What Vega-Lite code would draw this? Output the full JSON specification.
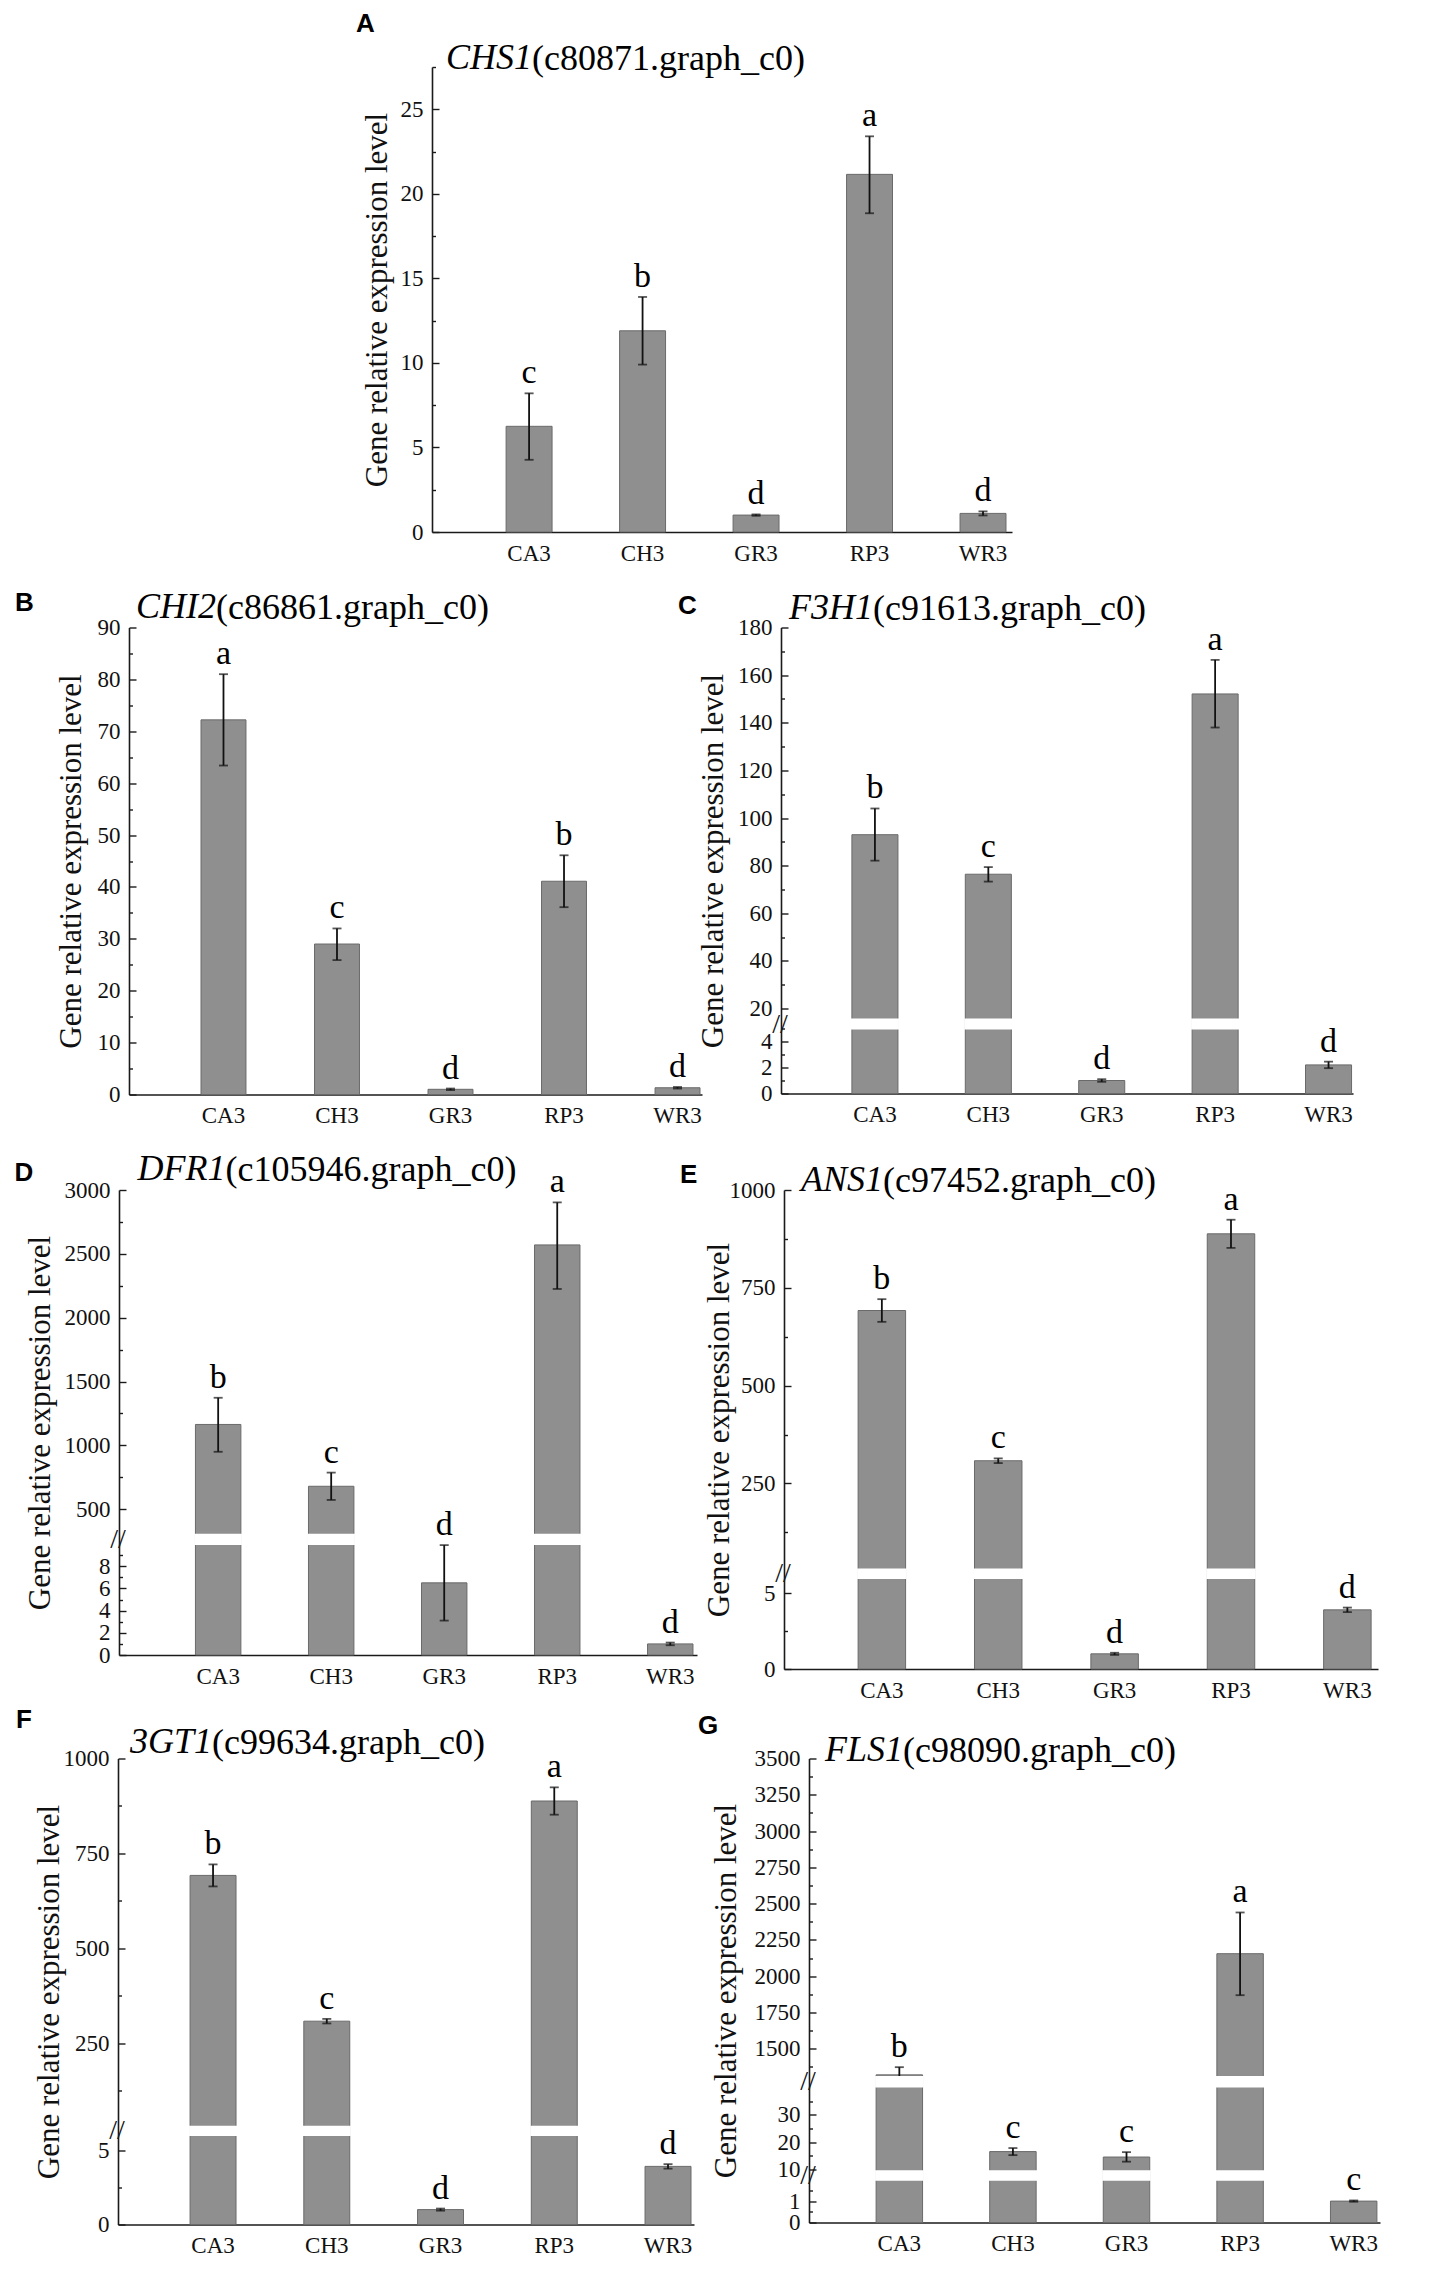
{
  "$schema": "https://vega.github.io/schema/vega-lite/v6.json",
  "background": "white",
  "padding": {"left": 5, "top": 10, "right": 5, "bottom": 5},
  "spacing": 23.5,
  "datasets": {
    "A": [
      {"line": "CA3", "value": 6.25, "lo": 4.27, "hi": 8.2, "sig": "c"},
      {"line": "CH3", "value": 11.9, "lo": 9.9, "hi": 13.9, "sig": "b"},
      {"line": "GR3", "value": 1.0, "lo": 0.96, "hi": 1.04, "sig": "d"},
      {"line": "RP3", "value": 21.15, "lo": 18.85, "hi": 23.4, "sig": "a"},
      {"line": "WR3", "value": 1.1, "lo": 0.98, "hi": 1.22, "sig": "d"}
    ],
    "B": [
      {"line": "CA3", "value": 72.2, "lo": 63.4, "hi": 81.0, "sig": "a"},
      {"line": "CH3", "value": 29.0, "lo": 25.9, "hi": 32.0, "sig": "c"},
      {"line": "GR3", "value": 1.0, "lo": 0.85, "hi": 1.15, "sig": "d"},
      {"line": "RP3", "value": 41.1, "lo": 36.1, "hi": 46.1, "sig": "b"},
      {"line": "WR3", "value": 1.3, "lo": 1.15, "hi": 1.45, "sig": "d"}
    ],
    "C": [
      {"line": "CA3", "value": 93.0, "lo": 82.1, "hi": 104.0, "sig": "b"},
      {"line": "CH3", "value": 76.4, "lo": 73.3, "hi": 79.4, "sig": "c"},
      {"line": "GR3", "value": 1.0, "lo": 0.9, "hi": 1.1, "sig": "d"},
      {"line": "RP3", "value": 152.1, "lo": 138.0, "hi": 166.4, "sig": "a"},
      {"line": "WR3", "value": 2.2, "lo": 1.95, "hi": 2.45, "sig": "d"}
    ],
    "D": [
      {"line": "CA3", "value": 1164, "lo": 950, "hi": 1373, "sig": "b"},
      {"line": "CH3", "value": 680, "lo": 573, "hi": 787, "sig": "c"},
      {"line": "GR3", "value": 6.5, "lo": 3.1, "hi": 9.9, "sig": "d"},
      {"line": "RP3", "value": 2570, "lo": 2225, "hi": 2903, "sig": "a"},
      {"line": "WR3", "value": 1.0, "lo": 0.88, "hi": 1.12, "sig": "d"}
    ],
    "E": [
      {"line": "CA3", "value": 692, "lo": 663, "hi": 721, "sig": "b"},
      {"line": "CH3", "value": 308, "lo": 302, "hi": 314, "sig": "c"},
      {"line": "GR3", "value": 1.0, "lo": 0.93, "hi": 1.07, "sig": "d"},
      {"line": "RP3", "value": 888, "lo": 852, "hi": 924, "sig": "a"},
      {"line": "WR3", "value": 3.9, "lo": 3.75, "hi": 4.05, "sig": "d"}
    ],
    "F": [
      {"line": "CA3", "value": 692, "lo": 663, "hi": 721, "sig": "b"},
      {"line": "CH3", "value": 308, "lo": 302, "hi": 314, "sig": "c"},
      {"line": "GR3", "value": 1.0, "lo": 0.93, "hi": 1.07, "sig": "d"},
      {"line": "RP3", "value": 888, "lo": 852, "hi": 924, "sig": "a"},
      {"line": "WR3", "value": 3.9, "lo": 3.75, "hi": 4.05, "sig": "d"}
    ],
    "G": [
      {"line": "CA3", "value": 1320, "lo": 1267, "hi": 1373, "sig": "b"},
      {"line": "CH3", "value": 16.5, "lo": 15.2, "hi": 17.8, "sig": "c"},
      {"line": "GR3", "value": 14.5, "lo": 12.8, "hi": 16.3, "sig": "c"},
      {"line": "RP3", "value": 2155, "lo": 1869, "hi": 2439, "sig": "a"},
      {"line": "WR3", "value": 1.0, "lo": 0.97, "hi": 1.03, "sig": "c"}
    ]
  },
  "vconcat": [
    {
      "spacing": 10,
      "hconcat": [
        {"width": 337, "height": 1, "data": {"values": [{"k": 1}]}, "mark": {"type": "point", "opacity": 0}, "encoding": {}},
        {
          "title": {"text": "A", "anchor": "start", "frame": "bounds", "font": "Liberation Sans", "fontSize": 26, "fontWeight": "bold", "color": "#000", "offset": 0, "dx": -5, "dy": -3},
          "vconcat": [{
            "title": {"text": "CHS1", "anchor": "start", "frame": "group", "offset": 0, "dx": 14, "dy": 36, "font": "Liberation Serif", "fontSize": 36, "fontStyle": "italic", "fontWeight": "normal", "color": "#000"},
            "vconcat": [{
              "width": 580,
              "height": 465,
              "data": {"name": "A"},
              "title": {"text": "(c80871.graph_c0)", "anchor": "start", "frame": "group", "offset": 0, "dx": 100, "dy": 21.5, "font": "Liberation Serif", "fontSize": 36, "fontStyle": "normal", "fontWeight": "normal", "color": "#000"},
              "encoding": {"x": {"field": "line", "type": "nominal", "title": null, "scale": {"paddingInner": 0.595, "paddingOuter": 0.353, "align": 0.925}}},
              "layer": [
                {
                  "mark": {"type": "bar", "fill": "#8f8f8f", "stroke": "#6a6a6a", "strokeWidth": 1},
                  "encoding": {
                    "y": {
                      "field": "value", "type": "quantitative", "title": "Gene relative expression level",
                      "scale": {"domain": [0, 27.5], "nice": false, "zero": false},
                      "axis": {
                        "values": [0, 2.5, 5, 7.5, 10, 12.5, 15, 17.5, 20, 22.5, 25, 27.5],
                        "tickCount": 200,
                        "format": "d",
                        "labelOverlap": false,
                        "labelExpr": "indexof([0,5,10,15,20,25], datum.value) >= 0 ? datum.label : ''",
                        "tickSize": {"condition": {"test": "indexof([0,5,10,15,20,25], datum.value) >= 0", "value": -7}, "value": -3.5},
                        "labelPadding": 16,
                        "titleX": -55
                      }
                    },
                    "y2": {"datum": 0}
                  }
                },
                {
                  "mark": {"type": "errorbar", "ticks": {"size": 9}, "thickness": 1.8, "color": "#111"},
                  "encoding": {"y": {"field": "lo", "type": "quantitative", "title": "Gene relative expression level"}, "y2": {"field": "hi"}}
                },
                {
                  "mark": {"type": "text", "baseline": "alphabetic", "dy": -10, "fontSize": 34, "font": "Liberation Serif", "color": "#000"},
                  "encoding": {"y": {"field": "hi", "type": "quantitative", "title": "Gene relative expression level"}, "text": {"field": "sig"}}
                }
              ]
            }]
          }]
        }
      ]
    },
    {
      "spacing": -25,
      "hconcat": [
        {"width": 31, "height": 1, "data": {"values": [{"k": 1}]}, "mark": {"type": "point", "opacity": 0}, "encoding": {}},
        {
          "title": {"text": "B", "anchor": "start", "frame": "bounds", "font": "Liberation Sans", "fontSize": 26, "fontWeight": "bold", "color": "#000", "offset": 0, "dx": -40, "dy": 27},
          "vconcat": [{
            "title": {"text": "CHI2", "anchor": "start", "frame": "group", "offset": 0, "dx": 7, "dy": 36, "font": "Liberation Serif", "fontSize": 36, "fontStyle": "italic", "fontWeight": "normal", "color": "#000"},
            "vconcat": [{
              "width": 573,
              "height": 467,
              "data": {"name": "B"},
              "title": {"text": "(c86861.graph_c0)", "anchor": "start", "frame": "group", "offset": 0, "dx": 87, "dy": 10.5, "font": "Liberation Serif", "fontSize": 36, "fontStyle": "normal", "fontWeight": "normal", "color": "#000"},
              "encoding": {"x": {"field": "line", "type": "nominal", "title": null, "scale": {"paddingInner": 0.604, "paddingOuter": 0.326, "align": 0.973}}},
              "layer": [
                {
                  "mark": {"type": "bar", "fill": "#8f8f8f", "stroke": "#6a6a6a", "strokeWidth": 1},
                  "encoding": {
                    "y": {
                      "field": "value", "type": "quantitative", "title": "Gene relative expression level",
                      "scale": {"domain": [0, 90], "nice": false, "zero": false},
                      "axis": {
                        "values": [0, 5, 10, 15, 20, 25, 30, 35, 40, 45, 50, 55, 60, 65, 70, 75, 80, 85, 90],
                        "tickCount": 200,
                        "format": "d",
                        "labelOverlap": false,
                        "labelExpr": "datum.value % 10 == 0 ? datum.label : ''",
                        "tickSize": {"condition": {"test": "datum.value % 10 == 0", "value": -7}, "value": -3.5},
                        "labelPadding": 16,
                        "titleX": -58
                      }
                    },
                    "y2": {"datum": 0}
                  }
                },
                {
                  "mark": {"type": "errorbar", "ticks": {"size": 9}, "thickness": 1.8, "color": "#111"},
                  "encoding": {"y": {"field": "lo", "type": "quantitative", "title": "Gene relative expression level"}, "y2": {"field": "hi"}}
                },
                {
                  "mark": {"type": "text", "baseline": "alphabetic", "dy": -10, "fontSize": 34, "font": "Liberation Serif", "color": "#000"},
                  "encoding": {"y": {"field": "hi", "type": "quantitative", "title": "Gene relative expression level"}, "text": {"field": "sig"}}
                }
              ]
            }]
          }]
        },
        {
          "title": {"text": "C", "anchor": "start", "frame": "bounds", "font": "Liberation Sans", "fontSize": 26, "fontWeight": "bold", "color": "#000", "offset": 0, "dx": -19, "dy": 29},
          "vconcat": [{
            "title": {"text": "F3H1", "anchor": "start", "frame": "group", "offset": 0, "dx": 8, "dy": 36, "font": "Liberation Serif", "fontSize": 36, "fontStyle": "italic", "fontWeight": "normal", "color": "#000"},
            "vconcat": [{
              "width": 572,
              "height": 466,
              "data": {"name": "C"},
              "title": {"text": "(c91613.graph_c0)", "anchor": "start", "frame": "group", "offset": 0, "dx": 92, "dy": 11.5, "font": "Liberation Serif", "fontSize": 36, "fontStyle": "normal", "fontWeight": "normal", "color": "#000"},
              "encoding": {"x": {"field": "line", "type": "nominal", "title": null, "scale": {"paddingInner": 0.594, "paddingOuter": 0.319, "align": 0.98}}},
              "layer": [
                {
                  "mark": {"type": "bar", "fill": "#8f8f8f", "stroke": "#6a6a6a", "strokeWidth": 1},
                  "encoding": {
                    "y": {
                      "field": "value", "type": "quantitative", "title": "Gene relative expression level",
                      "scale": {"domain": [0, 5, 15.4, 180], "range": [466, 401, 392, 0], "nice": false, "zero": false},
                      "axis": {
                        "values": [0, 1, 2, 3, 4, 5, 10.2, 20, 30, 40, 50, 60, 70, 80, 90, 100, 110, 120, 130, 140, 150, 160, 170, 180],
                        "tickCount": 200,
                        "format": "d",
                        "labelOverlap": false,
                        "labelExpr": "indexof([0,2,4,20,40,60,80,100,120,140,160,180], datum.value) >= 0 ? datum.label : (datum.value == 10.2 ? '//' : '')",
                        "tickSize": {"condition": {"test": "indexof([0,2,4,20,40,60,80,100,120,140,160,180], datum.value) >= 0", "value": -7}, "value": -3.5},
                        "tickOpacity": {"condition": {"test": "datum.value == 10.2", "value": 0}, "value": 1},
                        "labelPadding": {"condition": {"test": "datum.value == 10.2", "value": 5}, "value": 16},
                        "labelAlign": {"condition": {"test": "datum.value == 10.2", "value": "center"}, "value": "right"},
                        "labelFontSize": {"condition": {"test": "datum.value == 10.2", "value": 28}, "value": 23},
                        "titleX": -68
                      }
                    },
                    "y2": {"datum": 0}
                  }
                },
                {
                  "mark": {"type": "errorbar", "ticks": {"size": 9}, "thickness": 1.8, "color": "#111"},
                  "encoding": {"y": {"field": "lo", "type": "quantitative", "title": "Gene relative expression level"}, "y2": {"field": "hi"}}
                },
                {
                  "transform": [{"filter": "datum.value > 15.4"}],
                  "mark": {"type": "bar", "fill": "white", "stroke": "white", "strokeWidth": 2},
                  "encoding": {"y": {"datum": 5}, "y2": {"datum": 15.4}}
                },
                {
                  "mark": {"type": "text", "baseline": "alphabetic", "dy": -10, "fontSize": 34, "font": "Liberation Serif", "color": "#000"},
                  "encoding": {"y": {"field": "hi", "type": "quantitative", "title": "Gene relative expression level"}, "text": {"field": "sig"}}
                }
              ]
            }]
          }]
        }
      ]
    },
    {
      "spacing": 4.5,
      "vconcat": [
        {
          "spacing": -18,
          "hconcat": [
            {"width": 24, "height": 1, "data": {"values": [{"k": 1}]}, "mark": {"type": "point", "opacity": 0}, "encoding": {}},
            {
              "title": {"text": "D", "anchor": "start", "frame": "bounds", "font": "Liberation Sans", "fontSize": 26, "fontWeight": "bold", "color": "#000", "offset": 0, "dx": -10, "dy": 35},
              "vconcat": [{
                "title": {"text": "DFR1", "anchor": "start", "frame": "group", "offset": 0, "dx": 18.5, "dy": 36, "font": "Liberation Serif", "fontSize": 36, "fontStyle": "italic", "fontWeight": "normal", "color": "#000"},
                "vconcat": [{
                  "width": 578,
                  "height": 465,
                  "data": {"name": "D"},
                  "title": {"text": "(c105946.graph_c0)", "anchor": "start", "frame": "group", "offset": 0, "dx": 106.5, "dy": 24, "font": "Liberation Serif", "fontSize": 36, "fontStyle": "normal", "fontWeight": "normal", "color": "#000"},
                  "encoding": {"x": {"field": "line", "type": "nominal", "title": null, "scale": {"paddingInner": 0.598, "paddingOuter": 0.356, "align": 0.95}}},
                  "layer": [
                    {
                      "mark": {"type": "bar", "fill": "#8f8f8f", "stroke": "#6a6a6a", "strokeWidth": 1},
                      "encoding": {
                        "y": {
                          "field": "value", "type": "quantitative", "title": "Gene relative expression level",
                          "scale": {"domain": [0, 10, 300, 3000], "range": [465, 354, 344.8, 0], "nice": false, "zero": false},
                          "axis": {
                            "values": [0, 1, 2, 3, 4, 5, 6, 7, 8, 9, 155, 500, 750, 1000, 1250, 1500, 1750, 2000, 2250, 2500, 2750, 3000],
                            "tickCount": 200,
                            "format": "d",
                            "labelOverlap": false,
                            "labelExpr": "indexof([0,2,4,6,8,500,1000,1500,2000,2500,3000], datum.value) >= 0 ? datum.label : (datum.value == 155 ? '//' : '')",
                            "tickSize": {"condition": {"test": "indexof([0,2,4,6,8,500,1000,1500,2000,2500,3000], datum.value) >= 0", "value": -7}, "value": -3.5},
                            "tickOpacity": {"condition": {"test": "datum.value == 155", "value": 0}, "value": 1},
                            "labelPadding": {"condition": {"test": "datum.value == 155", "value": 5}, "value": 16},
                            "labelAlign": {"condition": {"test": "datum.value == 155", "value": "center"}, "value": "right"},
                            "labelFontSize": {"condition": {"test": "datum.value == 155", "value": 28}, "value": 23},
                            "titleX": -78.5
                          }
                        },
                        "y2": {"datum": 0}
                      }
                    },
                    {
                      "mark": {"type": "errorbar", "ticks": {"size": 9}, "thickness": 1.8, "color": "#111"},
                      "encoding": {"y": {"field": "lo", "type": "quantitative", "title": "Gene relative expression level"}, "y2": {"field": "hi"}}
                    },
                    {
                      "transform": [{"filter": "datum.value > 300"}],
                      "mark": {"type": "bar", "fill": "white", "stroke": "white", "strokeWidth": 2},
                      "encoding": {"y": {"datum": 10}, "y2": {"datum": 300}}
                    },
                    {
                      "mark": {"type": "text", "baseline": "alphabetic", "dy": -10, "fontSize": 34, "font": "Liberation Serif", "color": "#000"},
                      "encoding": {"y": {"field": "hi", "type": "quantitative", "title": "Gene relative expression level"}, "text": {"field": "sig"}}
                    }
                  ]
                }]
              }]
            },
            {
              "title": {"text": "E", "anchor": "start", "frame": "bounds", "font": "Liberation Sans", "fontSize": 26, "fontWeight": "bold", "color": "#000", "offset": 0, "dx": -23, "dy": 26},
              "vconcat": [{
                "title": {"text": "ANS1", "anchor": "start", "frame": "group", "offset": 0, "dx": 17, "dy": 36, "font": "Liberation Serif", "fontSize": 36, "fontStyle": "italic", "fontWeight": "normal", "color": "#000"},
                "vconcat": [{
                  "width": 594,
                  "height": 479,
                  "data": {"name": "E"},
                  "title": {"text": "(c97452.graph_c0)", "anchor": "start", "frame": "group", "offset": 0, "dx": 99, "dy": 20.5, "font": "Liberation Serif", "fontSize": 36, "fontStyle": "normal", "fontWeight": "normal", "color": "#000"},
                  "encoding": {"x": {"field": "line", "type": "nominal", "title": null, "scale": {"paddingInner": 0.592, "paddingOuter": 0.348, "align": 0.915}}},
                  "layer": [
                    {
                      "mark": {"type": "bar", "fill": "#8f8f8f", "stroke": "#6a6a6a", "strokeWidth": 1},
                      "encoding": {
                        "y": {
                          "field": "value", "type": "quantitative", "title": "Gene relative expression level",
                          "scale": {"domain": [0, 6, 30, 1000], "range": [479, 388, 379.5, 0], "nice": false, "zero": false},
                          "axis": {
                            "values": [0, 2.5, 5, 18, 125, 250, 375, 500, 625, 750, 875, 1000],
                            "tickCount": 200,
                            "format": "d",
                            "labelOverlap": false,
                            "labelExpr": "indexof([0,5,250,500,750,1000], datum.value) >= 0 ? datum.label : (datum.value == 18 ? '//' : '')",
                            "tickSize": {"condition": {"test": "indexof([0,5,250,500,750,1000], datum.value) >= 0", "value": -7}, "value": -3.5},
                            "tickOpacity": {"condition": {"test": "datum.value == 18", "value": 0}, "value": 1},
                            "labelPadding": {"condition": {"test": "datum.value == 18", "value": 5}, "value": 16},
                            "labelAlign": {"condition": {"test": "datum.value == 18", "value": "center"}, "value": "right"},
                            "labelFontSize": {"condition": {"test": "datum.value == 18", "value": 28}, "value": 23},
                            "titleX": -65
                          }
                        },
                        "y2": {"datum": 0}
                      }
                    },
                    {
                      "mark": {"type": "errorbar", "ticks": {"size": 9}, "thickness": 1.8, "color": "#111"},
                      "encoding": {"y": {"field": "lo", "type": "quantitative", "title": "Gene relative expression level"}, "y2": {"field": "hi"}}
                    },
                    {
                      "transform": [{"filter": "datum.value > 30"}],
                      "mark": {"type": "bar", "fill": "white", "stroke": "white", "strokeWidth": 2},
                      "encoding": {"y": {"datum": 6}, "y2": {"datum": 30}}
                    },
                    {
                      "mark": {"type": "text", "baseline": "alphabetic", "dy": -10, "fontSize": 34, "font": "Liberation Serif", "color": "#000"},
                      "encoding": {"y": {"field": "hi", "type": "quantitative", "title": "Gene relative expression level"}, "text": {"field": "sig"}}
                    }
                  ]
                }]
              }]
            }
          ]
        },
        {
          "spacing": 3,
          "hconcat": [
            {"width": 1, "height": 1, "data": {"values": [{"k": 1}]}, "mark": {"type": "point", "opacity": 0}, "encoding": {}},
            {
              "title": {"text": "F", "anchor": "start", "frame": "bounds", "font": "Liberation Sans", "fontSize": 26, "fontWeight": "bold", "color": "#000", "offset": 0, "dx": -17, "dy": 9},
              "vconcat": [{
                "title": {"text": "3GT1", "anchor": "start", "frame": "group", "offset": 0, "dx": 12, "dy": 36, "font": "Liberation Serif", "fontSize": 36, "fontStyle": "italic", "fontWeight": "normal", "color": "#000"},
                "vconcat": [{
                  "width": 576,
                  "height": 466,
                  "data": {"name": "F"},
                  "title": {"text": "(c99634.graph_c0)", "anchor": "start", "frame": "group", "offset": 0, "dx": 94, "dy": 14.5, "font": "Liberation Serif", "fontSize": 36, "fontStyle": "normal", "fontWeight": "normal", "color": "#000"},
                  "encoding": {"x": {"field": "line", "type": "nominal", "title": null, "scale": {"paddingInner": 0.596, "paddingOuter": 0.33, "align": 0.96}}},
                  "layer": [
                    {
                      "mark": {"type": "bar", "fill": "#8f8f8f", "stroke": "#6a6a6a", "strokeWidth": 1},
                      "encoding": {
                        "y": {
                          "field": "value", "type": "quantitative", "title": "Gene relative expression level",
                          "scale": {"domain": [0, 6, 30, 1000], "range": [466, 376.6, 368.2, 0], "nice": false, "zero": false},
                          "axis": {
                            "values": [0, 2.5, 5, 18, 125, 250, 375, 500, 625, 750, 875, 1000],
                            "tickCount": 200,
                            "format": "d",
                            "labelOverlap": false,
                            "labelExpr": "indexof([0,5,250,500,750,1000], datum.value) >= 0 ? datum.label : (datum.value == 18 ? '//' : '')",
                            "tickSize": {"condition": {"test": "indexof([0,5,250,500,750,1000], datum.value) >= 0", "value": -7}, "value": -3.5},
                            "tickOpacity": {"condition": {"test": "datum.value == 18", "value": 0}, "value": 1},
                            "labelPadding": {"condition": {"test": "datum.value == 18", "value": 5}, "value": 16},
                            "labelAlign": {"condition": {"test": "datum.value == 18", "value": "center"}, "value": "right"},
                            "labelFontSize": {"condition": {"test": "datum.value == 18", "value": 28}, "value": 23},
                            "titleX": -69
                          }
                        },
                        "y2": {"datum": 0}
                      }
                    },
                    {
                      "mark": {"type": "errorbar", "ticks": {"size": 9}, "thickness": 1.8, "color": "#111"},
                      "encoding": {"y": {"field": "lo", "type": "quantitative", "title": "Gene relative expression level"}, "y2": {"field": "hi"}}
                    },
                    {
                      "transform": [{"filter": "datum.value > 30"}],
                      "mark": {"type": "bar", "fill": "white", "stroke": "white", "strokeWidth": 2},
                      "encoding": {"y": {"datum": 6}, "y2": {"datum": 30}}
                    },
                    {
                      "mark": {"type": "text", "baseline": "alphabetic", "dy": -10, "fontSize": 34, "font": "Liberation Serif", "color": "#000"},
                      "encoding": {"y": {"field": "hi", "type": "quantitative", "title": "Gene relative expression level"}, "text": {"field": "sig"}}
                    }
                  ]
                }]
              }]
            },
            {
              "title": {"text": "G", "anchor": "start", "frame": "bounds", "font": "Liberation Sans", "fontSize": 26, "fontWeight": "bold", "color": "#000", "offset": 0, "dx": -12, "dy": 7},
              "vconcat": [{
                "title": {"text": "FLS1", "anchor": "start", "frame": "group", "offset": 0, "dx": 16, "dy": 36, "font": "Liberation Serif", "fontSize": 36, "fontStyle": "italic", "fontWeight": "normal", "color": "#000"},
                "vconcat": [{
                  "width": 571,
                  "height": 464,
                  "data": {"name": "G"},
                  "title": {"text": "(c98090.graph_c0)", "anchor": "start", "frame": "group", "offset": 0, "dx": 94, "dy": 22.5, "font": "Liberation Serif", "fontSize": 36, "fontStyle": "normal", "fontWeight": "normal", "color": "#000"},
                  "encoding": {"x": {"field": "line", "type": "nominal", "title": null, "scale": {"paddingInner": 0.591, "paddingOuter": 0.309, "align": 0.956}}},
                  "layer": [
                    {
                      "mark": {"type": "bar", "fill": "#8f8f8f", "stroke": "#6a6a6a", "strokeWidth": 1},
                      "encoding": {
                        "y": {
                          "field": "value", "type": "quantitative", "title": "Gene relative expression level",
                          "scale": {"domain": [0, 2, 9.3, 40.4, 1306, 3500], "range": [464, 421.2, 412.7, 328, 318.4, 0], "nice": false, "zero": false},
                          "axis": {
                            "values": [0, 0.5, 1, 1.5, 5.65, 10, 15, 20, 25, 30, 35, 673, 1375, 1500, 1625, 1750, 1875, 2000, 2125, 2250, 2375, 2500, 2625, 2750, 2875, 3000, 3125, 3250, 3375, 3500],
                            "tickCount": 200,
                            "format": "d",
                            "labelOverlap": false,
                            "labelExpr": "indexof([0,1,10,20,30,1500,1750,2000,2250,2500,2750,3000,3250,3500], datum.value) >= 0 ? datum.label : ((datum.value == 5.65 || datum.value == 673) ? '//' : '')",
                            "tickSize": {"condition": {"test": "indexof([0,1,10,20,30,1500,1750,2000,2250,2500,2750,3000,3250,3500], datum.value) >= 0", "value": -7}, "value": -3.5},
                            "tickOpacity": {"condition": {"test": "datum.value == 5.65 || datum.value == 673", "value": 0}, "value": 1},
                            "labelPadding": {"condition": {"test": "datum.value == 5.65 || datum.value == 673", "value": 5}, "value": 16},
                            "labelAlign": {"condition": {"test": "datum.value == 5.65 || datum.value == 673", "value": "center"}, "value": "right"},
                            "labelFontSize": {"condition": {"test": "datum.value == 5.65 || datum.value == 673", "value": 28}, "value": 23},
                            "titleX": -83
                          }
                        },
                        "y2": {"datum": 0}
                      }
                    },
                    {
                      "mark": {"type": "errorbar", "ticks": {"size": 9}, "thickness": 1.8, "color": "#111"},
                      "encoding": {"y": {"field": "lo", "type": "quantitative", "title": "Gene relative expression level"}, "y2": {"field": "hi"}}
                    },
                    {
                      "transform": [{"filter": "datum.value > 1306"}],
                      "mark": {"type": "bar", "fill": "white", "stroke": "white", "strokeWidth": 2},
                      "encoding": {"y": {"datum": 40.4}, "y2": {"datum": 1306}}
                    },
                    {
                      "transform": [{"filter": "datum.value > 9.3"}],
                      "mark": {"type": "bar", "fill": "white", "stroke": "white", "strokeWidth": 2},
                      "encoding": {"y": {"datum": 2}, "y2": {"datum": 9.3}}
                    },
                    {
                      "mark": {"type": "text", "baseline": "alphabetic", "dy": -10, "fontSize": 34, "font": "Liberation Serif", "color": "#000"},
                      "encoding": {"y": {"field": "hi", "type": "quantitative", "title": "Gene relative expression level"}, "text": {"field": "sig"}}
                    }
                  ]
                }]
              }]
            }
          ]
        }
      ]
    }
  ],
  "config": {
    "view": {"stroke": null},
    "font": "Liberation Serif",
    "axis": {
      "grid": false,
      "domainColor": "#1a1a1a",
      "domainWidth": 1.6,
      "tickColor": "#1a1a1a",
      "tickWidth": 1.4,
      "labelFont": "Liberation Serif",
      "labelFontSize": 23,
      "labelColor": "#111",
      "labelOverlap": false,
      "labelFlush": false,
      "titleFont": "Liberation Serif",
      "titleFontSize": 31,
      "titleFontWeight": "normal",
      "titleColor": "#111"
    },
    "axisX": {"ticks": false, "labelPadding": 10, "labelAngle": 0},
    "axisY": {"titleBaseline": "middle"}
  }
}
